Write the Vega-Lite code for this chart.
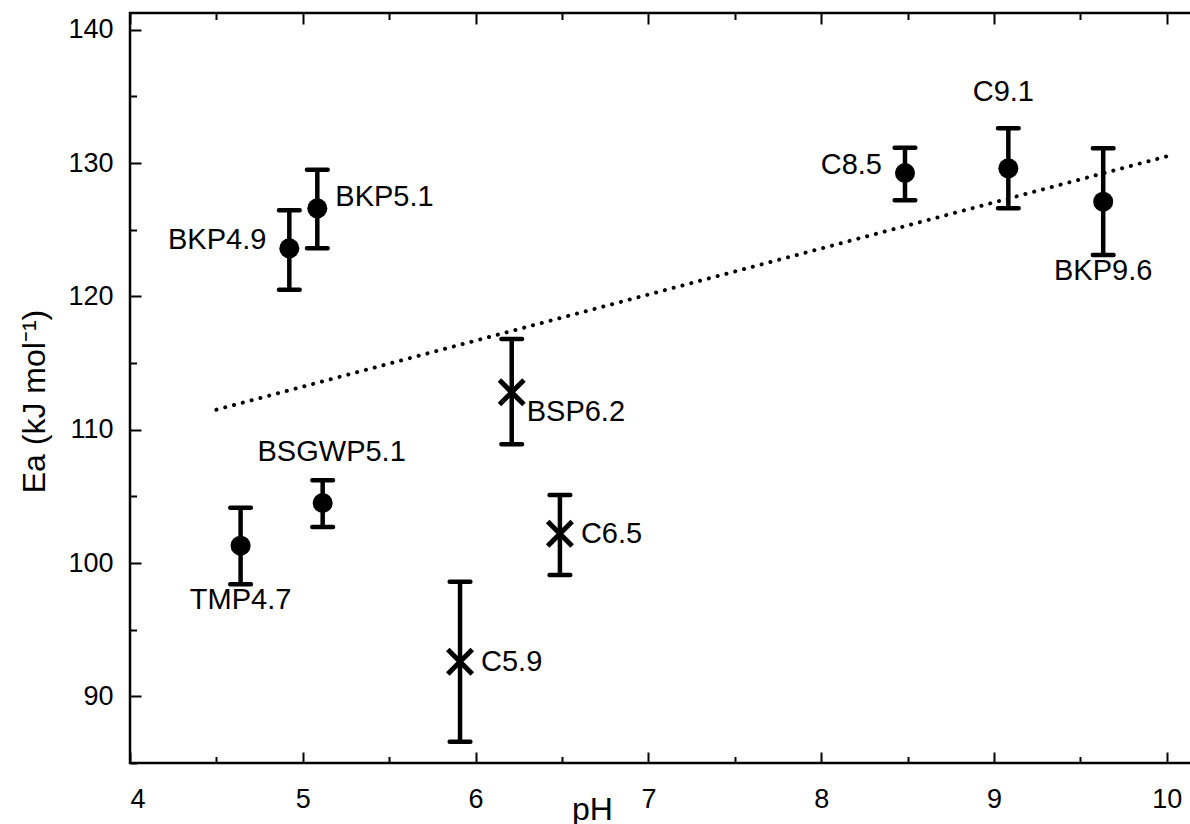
{
  "$schema": "https://vega.github.io/schema/vega-lite/v6.json",
  "autosize": {"type": "none"},
  "padding": {"left": 130, "top": 13, "right": 0, "bottom": 61},
  "width": 1071,
  "height": 750,
  "background": "white",
  "config": {
    "view": {"stroke": "black", "strokeWidth": 2.5},
    "font": "Liberation Sans",
    "axis": {
      "domain": false,
      "grid": false,
      "tickColor": "black",
      "tickWidth": 2,
      "labelColor": "black",
      "labelFont": "Liberation Sans",
      "labelFontSize": 27,
      "titleFont": "Liberation Sans",
      "titleFontSize": 32,
      "titleFontWeight": "normal",
      "titleColor": "black"
    }
  },
  "datasets": {
    "points": [
      {"sample": "TMP4.7", "pH": 4.64, "Ea": 101.3, "lo": 98.4, "hi": 104.15, "fit": "included", "side": "below"},
      {"sample": "BSGWP5.1", "pH": 5.115, "Ea": 104.5, "lo": 102.7, "hi": 106.2, "fit": "included", "side": "above right"},
      {"sample": "BKP4.9", "pH": 4.922, "Ea": 123.6, "lo": 120.5, "hi": 126.45, "fit": "included", "side": "left"},
      {"sample": "BKP5.1", "pH": 5.084, "Ea": 126.6, "lo": 123.6, "hi": 129.5, "fit": "included", "side": "upper right"},
      {"sample": "BSP6.2", "pH": 6.209, "Ea": 112.8, "lo": 108.9, "hi": 116.8, "fit": "excluded", "side": "lower right"},
      {"sample": "C6.5", "pH": 6.488, "Ea": 102.2, "lo": 99.1, "hi": 105.1, "fit": "excluded", "side": "right"},
      {"sample": "C5.9", "pH": 5.91, "Ea": 92.6, "lo": 86.6, "hi": 98.6, "fit": "excluded", "side": "right"},
      {"sample": "C8.5", "pH": 8.485, "Ea": 129.25, "lo": 127.2, "hi": 131.15, "fit": "included", "side": "left"},
      {"sample": "C9.1", "pH": 9.083, "Ea": 129.6, "lo": 126.6, "hi": 132.6, "fit": "included", "side": "above"},
      {"sample": "BKP9.6", "pH": 9.632, "Ea": 127.1, "lo": 123.1, "hi": 131.1, "fit": "included", "side": "below"}
    ],
    "trend": [
      {"pH": 4.5, "Ea": 111.5},
      {"pH": 10.0, "Ea": 130.5}
    ]
  },
  "resolve": {"axis": {"x": "independent", "y": "independent"}},
  "layer": [
    {
      "data": {"name": "trend"},
      "mark": {"type": "line", "color": "black", "strokeWidth": 4, "strokeDash": [0.1, 9], "strokeCap": "round"},
      "encoding": {
        "x": {"field": "pH", "type": "quantitative",
              "scale": {"domain": [4, 10.198], "nice": false, "zero": false},
              "axis": {"orient": "bottom", "values": [4, 5, 6, 7, 8, 9, 10], "offset": -11, "tickSize": 11, "labelPadding": 23, "format": "d",
                       "title": "pH", "titleX": 462, "titleY": 67, "titleBaseline": "alphabetic", "titleAnchor": "middle", "titleAlign": "center"}},
        "y": {"field": "Ea", "type": "quantitative",
              "scale": {"domain": [85, 141.25], "nice": false, "zero": false},
              "axis": {"orient": "left", "values": [90, 100, 110, 120, 130, 140], "offset": -11, "tickSize": 11, "labelPadding": 17, "format": "d",
                       "title": "Ea (kJ mol⁻¹)", "titleX": -97, "titleY": 388, "titleAngle": -90, "titleBaseline": "alphabetic", "titleAlign": "center"}}
      }
    },
    {
      "data": {"name": "points"},
      "mark": {"type": "rule", "color": "black", "strokeWidth": 4.5},
      "encoding": {
        "x": {"field": "pH", "type": "quantitative",
              "axis": {"orient": "top", "values": [4, 5, 6, 7, 8, 9, 10], "offset": -11, "tickSize": 11, "labels": false, "title": null}},
        "y": {"field": "lo", "type": "quantitative",
              "axis": {"orient": "right", "values": [90, 100, 110, 120, 130, 140], "offset": -11, "tickSize": 11, "labels": false, "title": null}},
        "y2": {"field": "hi"}
      }
    },
    {
      "data": {"name": "points"},
      "mark": {"type": "tick", "orient": "horizontal", "color": "black", "size": 25, "thickness": 4.5, "cornerRadius": 2, "opacity": 1},
      "encoding": {
        "x": {"field": "pH", "type": "quantitative",
              "axis": {"orient": "bottom", "values": [4.5, 5.5, 6.5, 7.5, 8.5, 9.5], "offset": -6.5, "tickSize": 6.5, "labels": false, "title": null}},
        "y": {"field": "hi", "type": "quantitative",
              "axis": {"orient": "left", "values": [85, 95, 105, 115, 125, 135], "offset": -6.5, "tickSize": 6.5, "labels": false, "title": null}}
      }
    },
    {
      "data": {"name": "points"},
      "mark": {"type": "tick", "orient": "horizontal", "color": "black", "size": 25, "thickness": 4.5, "cornerRadius": 2, "opacity": 1},
      "encoding": {
        "x": {"field": "pH", "type": "quantitative",
              "axis": {"orient": "top", "values": [4.5, 5.5, 6.5, 7.5, 8.5, 9.5], "offset": -6.5, "tickSize": 6.5, "labels": false, "title": null}},
        "y": {"field": "lo", "type": "quantitative",
              "axis": {"orient": "right", "values": [85, 95, 105, 115, 125, 135], "offset": -6.5, "tickSize": 6.5, "labels": false, "title": null}}
      }
    },
    {
      "data": {"name": "points"},
      "transform": [{"filter": "datum.fit === 'included'"}],
      "mark": {"type": "point", "shape": "circle", "filled": true, "color": "black", "size": 400, "opacity": 1},
      "encoding": {
        "x": {"field": "pH", "type": "quantitative", "axis": null},
        "y": {"field": "Ea", "type": "quantitative", "axis": null}
      }
    },
    {
      "data": {"name": "points"},
      "transform": [{"filter": "datum.fit === 'excluded'"}],
      "mark": {"type": "point", "shape": "M-1,-1L1,1M-1,1L1,-1", "filled": false, "stroke": "black", "strokeWidth": 5, "size": 600, "opacity": 1},
      "encoding": {
        "x": {"field": "pH", "type": "quantitative", "axis": null},
        "y": {"field": "Ea", "type": "quantitative", "axis": null}
      }
    },
    {
      "data": {"name": "points"},
      "transform": [{"filter": "datum.side === 'left'"}],
      "mark": {"type": "text", "fontSize": 29, "color": "black", "align": "right", "baseline": "middle", "dx": -23, "dy": -8},
      "encoding": {
        "x": {"field": "pH", "type": "quantitative", "axis": null},
        "y": {"field": "Ea", "type": "quantitative", "axis": null},
        "text": {"field": "sample"}
      }
    },
    {
      "data": {"name": "points"},
      "transform": [{"filter": "datum.side === 'right'"}],
      "mark": {"type": "text", "fontSize": 29, "color": "black", "align": "left", "baseline": "middle", "dx": 21, "dy": 0},
      "encoding": {
        "x": {"field": "pH", "type": "quantitative", "axis": null},
        "y": {"field": "Ea", "type": "quantitative", "axis": null},
        "text": {"field": "sample"}
      }
    },
    {
      "data": {"name": "points"},
      "transform": [{"filter": "datum.side === 'upper right'"}],
      "mark": {"type": "text", "fontSize": 29, "color": "black", "align": "left", "baseline": "middle", "dx": 18, "dy": -11},
      "encoding": {
        "x": {"field": "pH", "type": "quantitative", "axis": null},
        "y": {"field": "Ea", "type": "quantitative", "axis": null},
        "text": {"field": "sample"}
      }
    },
    {
      "data": {"name": "points"},
      "transform": [{"filter": "datum.side === 'lower right'"}],
      "mark": {"type": "text", "fontSize": 29, "color": "black", "align": "left", "baseline": "middle", "dx": 15, "dy": 20},
      "encoding": {
        "x": {"field": "pH", "type": "quantitative", "axis": null},
        "y": {"field": "Ea", "type": "quantitative", "axis": null},
        "text": {"field": "sample"}
      }
    },
    {
      "data": {"name": "points"},
      "transform": [{"filter": "datum.side === 'above'"}],
      "mark": {"type": "text", "fontSize": 29, "color": "black", "align": "center", "baseline": "middle", "dx": -5, "dy": -36},
      "encoding": {
        "x": {"field": "pH", "type": "quantitative", "axis": null},
        "y": {"field": "hi", "type": "quantitative", "axis": null},
        "text": {"field": "sample"}
      }
    },
    {
      "data": {"name": "points"},
      "transform": [{"filter": "datum.side === 'above right'"}],
      "mark": {"type": "text", "fontSize": 29, "color": "black", "align": "center", "baseline": "middle", "dx": 9, "dy": -28},
      "encoding": {
        "x": {"field": "pH", "type": "quantitative", "axis": null},
        "y": {"field": "hi", "type": "quantitative", "axis": null},
        "text": {"field": "sample"}
      }
    },
    {
      "data": {"name": "points"},
      "transform": [{"filter": "datum.side === 'below'"}],
      "mark": {"type": "text", "fontSize": 29, "color": "black", "align": "center", "baseline": "middle", "dx": 0, "dy": 16},
      "encoding": {
        "x": {"field": "pH", "type": "quantitative", "axis": null},
        "y": {"field": "lo", "type": "quantitative", "axis": null},
        "text": {"field": "sample"}
      }
    }
  ]
}
